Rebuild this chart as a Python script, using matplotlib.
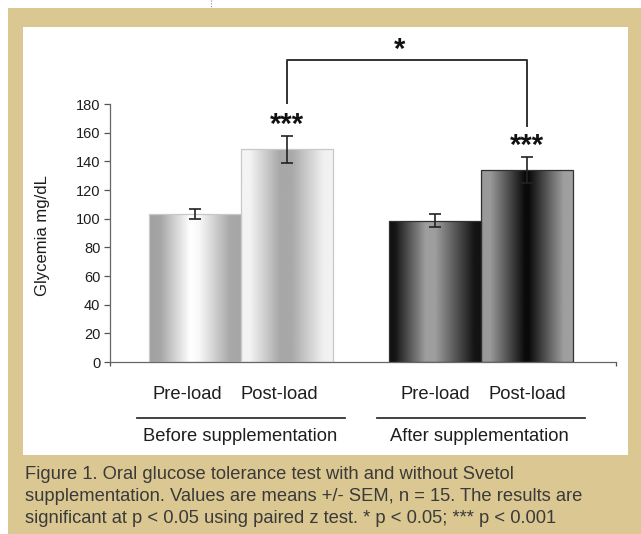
"""Oral glucose tolerance test bar chart, before/after Svetol supplementation."""

import matplotlib

matplotlib.use("Agg")
import matplotlib.pyplot as plt
import numpy as np
from matplotlib.patches import Rectangle
from matplotlib.lines import Line2D

plt.rcParams["font.family"] = ["Liberation Sans", "DejaVu Sans"]

# data
groups = ["Before supplementation", "After supplementation"]
loads = ["Pre-load", "Post-load"]
means = [[103, 148.5], [98.5, 134]]
sems = [[3.5, 9.5], [4.5, 9]]
stars = [[None, "***"], [None, "***"]]
yticks = list(range(0, 181, 20))

W, H = 641, 534
BEIGE = "#dbc791"
TEXT = "#1e1e1e"
CAPTION = "#3a3a3a"

# horizontal grey profiles for the shaded bars (pos, level 0=black 1=white)
profiles = [
    [([0, 0.12, 0.45, 0.55, 0.88, 1], [0.63, 0.65, 1.0, 0.97, 0.66, 0.65]),
     ([0, 0.1, 0.42, 0.55, 0.9, 1], [0.96, 0.95, 0.66, 0.66, 0.94, 0.95])],
    [([0, 0.06, 0.4, 0.5, 0.93, 1], [0.07, 0.08, 0.62, 0.62, 0.08, 0.07]),
     ([0, 0.1, 0.48, 0.52, 0.9, 1], [0.6, 0.6, 0.04, 0.04, 0.62, 0.63])],
]
edges = [["#c8c8c8", "#c8c8c8"], ["#303030", "#303030"]]


def px(x, y):
    """pixel position (from top-left) -> figure fraction"""
    return x / W, 1 - y / H


fig = plt.figure(figsize=(W / 100, H / 100), dpi=100, facecolor="white")

# beige frame and white panel
fig.patches.append(Rectangle(px(8, 534), 633 / W, 526 / H, transform=fig.transFigure,
                             facecolor=BEIGE, edgecolor="none", zorder=-3))
fig.patches.append(Rectangle(px(23, 455), 605 / W, 428 / H, transform=fig.transFigure,
                             facecolor="white", edgecolor="none", zorder=-2))
fig.lines.append(Line2D([211 / W, 211 / W], [1, 1 - 8 / H], transform=fig.transFigure,
                        color="#888888", lw=0.8, ls=(0, (1, 1.5))))

left, bottom = px(110, 362)
ax = fig.add_axes([left, bottom, 506 / W, 258 / H])
ax.set_facecolor("none")

width = 0.383
centres = np.arange(len(groups))
for g in range(len(groups)):
    for k in range(len(loads)):
        xc = centres[g] + (k - 0.5) * width
        rect = ax.bar(xc, means[g][k], width, facecolor="none",
                      edgecolor=edges[g][k], linewidth=0.9, zorder=3)[0]
        pos, lev = profiles[g][k]
        grad = np.interp(np.linspace(0, 1, 200), pos, lev)[None, :]
        im = ax.imshow(grad, cmap="gray", vmin=0, vmax=1, aspect="auto",
                       extent=(xc - width / 2, xc + width / 2, 0, means[g][k]),
                       interpolation="bilinear", zorder=2)
        im.set_clip_path(rect)
        ax.errorbar(xc, means[g][k], yerr=sems[g][k], fmt="none", ecolor="#222222",
                    elinewidth=1.2, capsize=4, capthick=1.2, zorder=4)
        if stars[g][k]:
            ax.text(xc, means[g][k] + sems[g][k] + 2, stars[g][k], ha="center",
                    va="baseline", fontsize=21, fontweight="bold", color="#111111")

# bracket between the two post-load bars
x_a = centres[0] + 0.5 * width
x_b = centres[1] + 0.5 * width
y_top = 211
ax.plot([x_a, x_a, x_b, x_b],
        [means[0][1] + sems[0][1] + 23, y_top, y_top, means[1][1] + sems[1][1] + 22],
        color="#333333", lw=1.4, clip_on=False, zorder=5)
ax.text(0.6625, y_top + 1, "*", ha="center", va="baseline", fontsize=21,
        fontweight="bold", color="#111111", clip_on=False)

ax.set_xlim(-0.546, 1.5625)
ax.set_ylim(0, 180)
ax.set_yticks(yticks)
ax.set_xticks([-0.546, 1.5625])
ax.set_xticklabels([])
ax.tick_params(axis="y", direction="out", length=4, width=0.9, color="#555555",
               labelsize=10.5, labelcolor=TEXT, pad=3)
ax.tick_params(axis="x", direction="out", length=3, width=0.9, color="#555555")
for side in ("top", "right"):
    ax.spines[side].set_visible(False)
for side in ("left", "bottom"):
    ax.spines[side].set_color("#666666")
    ax.spines[side].set_linewidth(0.9)

fig.text(*px(43, 236), "Glycemia mg/dL", rotation=90, ha="center", va="center",
         fontsize=12, color=TEXT)

# category and group labels below the axis
label_shift = [-0.033, 0.0]
for g in range(len(groups)):
    for k in range(len(loads)):
        xc = centres[g] + (k - 0.5) * width + label_shift[g]
        ax.text(xc, -22.5, loads[k], ha="center", va="center", fontsize=13.2,
                color=TEXT, clip_on=False)
    ax.plot([centres[g] - 0.433, centres[g] + 0.433], [-39.4, -39.4], color="#333333",
            lw=1.3, clip_on=False)
    ax.text(centres[g] - 0.005, -52.3, groups[g], ha="center", va="center",
            fontsize=13.2, color=TEXT, clip_on=False)

caption = ("Figure 1. Oral glucose tolerance test with and without Svetol\n"
           "supplementation. Values are means +/- SEM, n = 15. The results are\n"
           "significant at p < 0.05 using paired z test. * p < 0.05; *** p < 0.001")
fig.text(*px(25, 466), caption, ha="left", va="top", fontsize=13.2,
         color=CAPTION, linespacing=1.39)

fig.savefig("out.png", dpi=100, facecolor="white")
